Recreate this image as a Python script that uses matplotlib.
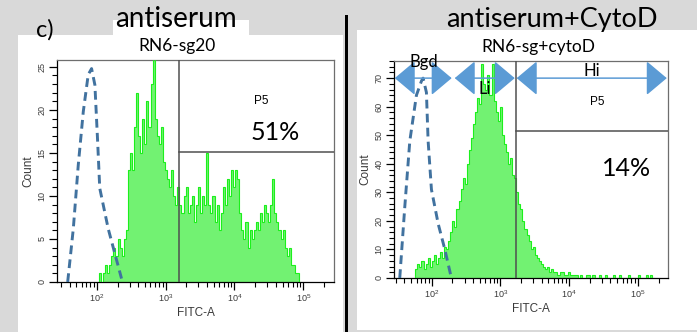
import numpy as np
import matplotlib
matplotlib.use('Agg')
import matplotlib.pyplot as plt
from matplotlib.patches import Rectangle
from matplotlib.ticker import FixedLocator, MultipleLocator, LogLocator, NullFormatter, LogFormatterMathtext

# --- data -------------------------------------------------------------
# histogram bins: log10 of the left edge of the first bin, bin width in decades
left_start, right_start, bin_w = 2.00, 1.76, 0.03

# antiserum, RN6-sg20 (counts per bin)
left_counts = [0, 1, 0, 1, 2, 1, 2, 3, 4, 3, 5, 4, 3, 5, 6, 13,
               15, 13, 18, 22, 17, 15, 19, 16, 21, 18, 23, 26, 19, 17,
               16, 18, 14, 13, 12, 11, 13, 10, 9, 11,
               9, 8, 10, 11, 8, 9, 10, 7, 9, 11, 8, 10, 9, 15, 9, 8, 10, 7, 9, 6,
               8, 11, 9, 12, 10, 13, 11, 13, 12, 8, 6, 5, 7, 4, 6, 5, 6,
               7, 6, 8, 7, 9, 8, 7, 9, 12, 8,
               7, 6, 5, 6, 4, 3, 4, 2, 2, 1, 1, 0]

# antiserum + CytoD, RN6-sg+cytoD
right_counts = [3, 5, 4, 6, 3, 5, 7, 4, 6, 8, 5, 7,
                9, 7, 11, 10, 13, 16, 20, 18, 24, 27,
                31, 35, 33, 40, 45, 49,
                54, 58, 63, 61, 75, 68, 66, 71, 64, 75, 62,
                58, 55, 60, 50, 47, 44, 40, 42, 36,
                35, 30, 26, 24, 20, 17, 15,
                13, 10, 11, 8, 7, 6, 5, 4,
                3, 4, 2, 3, 2, 2, 1, 2, 2, 1, 1, 2, 1, 1, 1,
                1, 0, 1, 0, 0, 1, 1, 0, 1, 0, 0, 1, 0, 0, 1, 0, 0, 0, 1, 0,
                0, 1, 0, 0, 0, 1, 0, 0, 0, 0, 1, 0, 0, 0, 1, 0, 1, 0]

# isotype / background control (dashed outline)
left_ctrl_x = [37.6, 45.4, 53.6, 63.4, 74.8, 83.7, 93.5, 102, 110, 146, 228]
left_ctrl_y = [0, 6.2, 13.6, 19.8, 24.1, 24.8, 22.9, 16.7, 10.9, 6.2, 0.4]
right_ctrl_x = [34.2, 40.5, 47.9, 59.8, 70.8, 74.8, 83.6, 88.5, 98.9, 124, 155, 193]
right_ctrl_y = [0, 25, 48, 64, 69, 70, 65, 48, 31, 19, 10, 0]

# P5 gates (x threshold, y threshold) and percentages
left_gate = (1540, 15.1)
right_gate = (1670, 51.6)
left_pct, right_pct = '51%', '14%'

# Bgd / Li / Hi ranges on the CytoD panel
arrow_ranges = {'Bgd': (28.9, 195), 'Li': (216, 1615), 'Hi': (1726, 2.64e5)}
arrow_level = 70

W, H = 697, 332


def fx(x, y):
    return x / W, 1 - y / H


fill_col = '#72f272'
edge_col = '#1cf01c'
ctrl_col = '#41729f'
arrow_col = '#5b9bd5'
label_col = '#3a3a3a'
big_font = 'Lato'
small_font = 'Liberation Sans'

fig = plt.figure(figsize=(W / 100, H / 100), dpi=100, facecolor='#d9d9d9')

# white panels behind the two plots
for (x0, y0, x1, y1) in [(18, 35, 343, 332), (113, 20, 249, 35), (357, 30, 697, 330)]:
    fig.patches.append(Rectangle((x0 / W, 1 - y1 / H), (x1 - x0) / W, (y1 - y0) / H,
                                 transform=fig.transFigure, facecolor='white',
                                 edgecolor='none', zorder=-3))
fig.patches.append(Rectangle((345 / W, 0), 3 / W, 1 - 15 / H, transform=fig.transFigure,
                             facecolor='black', edgecolor='none', zorder=-2))


def setup_axes(ax, ymax, major, minor):
    ax.set_xscale('log')
    ax.set_ylim(0, ymax)
    ax.xaxis.set_major_locator(FixedLocator([1e2, 1e3, 1e4, 1e5]))
    ax.xaxis.set_major_formatter(LogFormatterMathtext())
    ax.xaxis.set_minor_locator(LogLocator(subs=np.arange(2, 10)))
    ax.xaxis.set_minor_formatter(NullFormatter())
    ax.yaxis.set_major_locator(MultipleLocator(major))
    ax.yaxis.set_minor_locator(MultipleLocator(minor))
    ax.tick_params(which='major', length=6, width=0.9, labelsize=6.5, pad=1.5,
                   labelcolor=label_col)
    ax.tick_params(which='minor', length=3.5, width=0.8)
    for lab in ax.get_yticklabels():
        lab.set_rotation(90)
        lab.set_va('center')
        lab.set_family(small_font)
    for lab in ax.get_xticklabels():
        lab.set_family(small_font)
    for side in ['top', 'right']:
        ax.spines[side].set_color('#6e6e6e')
    for side in ['left', 'bottom']:
        ax.spines[side].set_color('black')
    for sp in ax.spines.values():
        sp.set_linewidth(0.9)
    ax.set_xlabel('FITC-A', family=small_font, fontsize=8.5, labelpad=2, color=label_col)
    ax.set_ylabel('Count', family=small_font, fontsize=8.5, labelpad=2, color=label_col)


def draw_hist(ax, start, counts):
    edges = 10 ** (start + bin_w * np.arange(len(counts) + 1))
    ax.stairs(counts, edges, fill=True, color=fill_col, zorder=2)
    ax.stairs(counts, edges, color=edge_col, lw=0.8, zorder=3)


def draw_gate(ax, gx, gy):
    ax.axvline(gx, color='#505050', lw=1.1, zorder=4)
    ax.plot([gx, ax.get_xlim()[1]], [gy, gy], color='#505050', lw=1.1, zorder=4)


# left panel: antiserum
ax1 = fig.add_axes([57 / W, 1 - 282 / H, 277 / W, 222 / H])
ax1.set_xlim(26.3, 2.8e5)
setup_axes(ax1, 25.8, 5, 1)
draw_hist(ax1, left_start, left_counts)
ax1.plot(left_ctrl_x, left_ctrl_y, color=ctrl_col, lw=2.1, ls=(0, (3, 1.8)), zorder=5)
draw_gate(ax1, *left_gate)

# right panel: antiserum + CytoD
ax2 = fig.add_axes([394 / W, 1 - 278 / H, 274 / W, 217 / H])
ax2.set_xlim(28.2, 2.75e5)
setup_axes(ax2, 76, 10, 2)
draw_hist(ax2, right_start, right_counts)
ax2.plot(right_ctrl_x, right_ctrl_y, color=ctrl_col, lw=2.1, ls=(0, (3, 1.8)), zorder=5)
draw_gate(ax2, *right_gate)

for name, (a, b) in arrow_ranges.items():
    ax2.annotate('', xy=(b, arrow_level), xytext=(a, arrow_level),
                 arrowprops=dict(arrowstyle='<|-|>,head_length=0.5,head_width=0.42',
                                 mutation_scale=26, color=arrow_col, lw=1.1,
                                 shrinkA=0, shrinkB=0),
                 annotation_clip=False, zorder=6)

# text
fig.text(*fx(45, 30), 'c)', family=big_font, fontsize=17, ha='center', va='center')
fig.text(*fx(176, 19), 'antiserum', family=big_font, fontsize=20, ha='center', va='center')
fig.text(*fx(552, 19), 'antiserum+CytoD', family=big_font, fontsize=19.5, ha='center', va='center')
fig.text(*fx(177, 46), 'RN6-sg20', family=big_font, fontsize=12.5, ha='center', va='center')
fig.text(*fx(538, 47), 'RN6-sg+cytoD', family=big_font, fontsize=12.5, ha='center', va='center')
fig.text(*fx(261, 101), 'P5', family=small_font, fontsize=8.5, ha='center', va='center')
fig.text(*fx(275, 133), left_pct, family=big_font, fontsize=18, ha='center', va='center')
fig.text(*fx(597, 102), 'P5', family=small_font, fontsize=8.5, ha='center', va='center')
fig.text(*fx(627, 168), right_pct, family=big_font, fontsize=18, ha='center', va='center')
fig.text(*fx(424, 62), 'Bgd', family=big_font, fontsize=12, ha='center', va='center', zorder=7)
fig.text(*fx(485, 89), 'Li', family=big_font, fontsize=12, ha='center', va='center', zorder=7)
fig.text(*fx(592, 71), 'Hi', family=big_font, fontsize=12, ha='center', va='center', zorder=7)

fig.savefig('out.png', dpi=100, facecolor=fig.get_facecolor())
